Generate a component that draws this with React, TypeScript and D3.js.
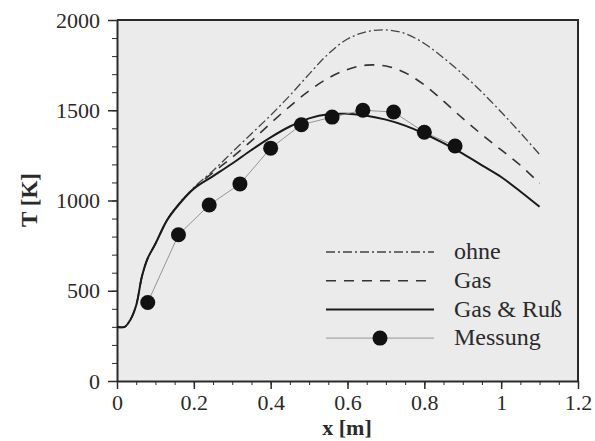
import React, { useEffect, useRef } from "react";
import * as d3 from "d3";

// Gas & Ruß (solid)
const solidX = [0, 0.02, 0.035, 0.05, 0.065, 0.08, 0.1, 0.13, 0.16, 0.2, 0.25, 0.3, 0.35, 0.4, 0.45, 0.5, 0.55, 0.6, 0.65, 0.7, 0.75, 0.8, 0.85, 0.9, 0.95, 1.0, 1.05, 1.1];
const solidT = [300, 300, 340, 420, 580, 680, 760, 890, 975, 1065, 1135, 1205, 1280, 1350, 1410, 1455, 1478, 1480, 1470, 1448, 1415, 1370, 1318, 1260, 1195, 1130, 1050, 965];

// Gas (dashed)
const gasX = [0, 0.02, 0.035, 0.05, 0.065, 0.08, 0.1, 0.13, 0.16, 0.2, 0.25, 0.3, 0.35, 0.4, 0.45, 0.5, 0.55, 0.6, 0.65, 0.7, 0.75, 0.8, 0.85, 0.9, 0.95, 1.0, 1.05, 1.1];
const gasT = [300, 300, 340, 420, 580, 680, 760, 890, 978, 1068, 1155, 1240, 1330, 1428, 1522, 1608, 1678, 1726, 1750, 1745, 1708, 1640, 1550, 1455, 1365, 1280, 1195, 1095];

// ohne (dash-dot)
const ohneX = [0, 0.02, 0.035, 0.05, 0.065, 0.08, 0.1, 0.13, 0.16, 0.2, 0.25, 0.3, 0.35, 0.4, 0.45, 0.5, 0.55, 0.6, 0.65, 0.7, 0.75, 0.8, 0.85, 0.9, 0.95, 1.0, 1.05, 1.1];
const ohneT = [300, 300, 340, 420, 580, 680, 760, 890, 980, 1072, 1165, 1268, 1370, 1472, 1582, 1700, 1812, 1895, 1935, 1945, 1925, 1870, 1790, 1700, 1600, 1490, 1375, 1255];

// Messung
const measX = [0.08, 0.16, 0.24, 0.32, 0.4, 0.48, 0.56, 0.64, 0.72, 0.8, 0.88];
const measT = [435, 810, 975, 1092, 1290, 1420, 1462, 1500, 1490, 1378, 1302];

const xTicks = [0, 0.2, 0.4, 0.6, 0.8, 1, 1.2];
const yTicks = [0, 500, 1000, 1500, 2000];
const legendLabels = ["ohne", "Gas", "Gas & Ruß", "Messung"];

export default function App() {
  const ref = useRef<SVGSVGElement>(null);

  useEffect(() => {
    const svg = d3.select(ref.current);
    svg.selectAll("*").remove();

    const width = 595;
    const height = 441;
    const margin = { top: 20, right: 17, bottom: 60, left: 117 };
    const font = "'Liberation Serif', Tinos, 'Times New Roman', Times, 'DejaVu Serif', serif";
    const ink = "#2a2a2a";

    svg.attr("width", width).attr("height", height);

    const x = d3.scaleLinear().domain([0, 1.2]).range([margin.left, width - margin.right]);
    const y = d3.scaleLinear().domain([0, 2000]).range([height - margin.bottom, margin.top]);

    // background
    svg.append("rect")
      .attr("x", margin.left).attr("y", margin.top)
      .attr("width", width - margin.right - margin.left)
      .attr("height", height - margin.bottom - margin.top)
      .attr("fill", "#ebebeb");

    // minor ticks
    const gx = svg.append("g")
      .attr("transform", `translate(0,${height - margin.bottom})`)
      .call(d3.axisBottom(x).tickValues(d3.range(0, 1.21, 0.05)).tickSize(4).tickFormat(() => ""));
    gx.select(".domain").remove();
    gx.selectAll("line").attr("stroke", ink);

    const gy = svg.append("g")
      .attr("transform", `translate(${margin.left},0)`)
      .call(d3.axisLeft(y).tickValues(d3.range(0, 2001, 100)).tickSize(5).tickFormat(() => ""));
    gy.select(".domain").remove();
    gy.selectAll("line").attr("stroke", ink);

    // major axes
    const ax = svg.append("g")
      .attr("transform", `translate(0,${height - margin.bottom})`)
      .call(d3.axisBottom(x).tickValues(xTicks).tickSize(8).tickPadding(5).tickSizeOuter(0).tickFormat(d => String(d)));
    ax.select(".domain").attr("stroke", ink).attr("stroke-width", 2);
    ax.selectAll("line").attr("stroke", ink).attr("stroke-width", 1.5);
    ax.selectAll("text").attr("font-family", font).attr("font-size", 22).attr("fill", ink);

    const ay = svg.append("g")
      .attr("transform", `translate(${margin.left},0)`)
      .call(d3.axisLeft(y).tickValues(yTicks).tickSize(9).tickPadding(8).tickSizeOuter(0).tickFormat(d => String(d)));
    ay.select(".domain").attr("stroke", ink).attr("stroke-width", 2);
    ay.selectAll("line").attr("stroke", ink).attr("stroke-width", 1.5);
    ay.selectAll("text").attr("font-family", font).attr("font-size", 22).attr("fill", ink);

    // frame top & right
    svg.append("path")
      .attr("d", `M${margin.left},${margin.top}H${width - margin.right}V${height - margin.bottom}`)
      .attr("fill", "none").attr("stroke", ink).attr("stroke-width", 2);

    const line = d3.line<[number, number]>()
      .x(d => x(d[0])).y(d => y(d[1]))
      .curve(d3.curveCatmullRom.alpha(0.5));

    const zip = (xs: number[], ts: number[]) => xs.map((v, i) => [v, ts[i]] as [number, number]);

    svg.append("path").datum(zip(ohneX, ohneT))
      .attr("d", line).attr("fill", "none").attr("stroke", "#444")
      .attr("stroke-width", 1.3).attr("stroke-dasharray", "9,3,2,3");

    svg.append("path").datum(zip(gasX, gasT))
      .attr("d", line).attr("fill", "none").attr("stroke", "#333")
      .attr("stroke-width", 1.6).attr("stroke-dasharray", "10,8");

    svg.append("path").datum(zip(solidX, solidT))
      .attr("d", line).attr("fill", "none").attr("stroke", "#1a1a1a")
      .attr("stroke-width", 2);

    const meas = zip(measX, measT);
    svg.append("path").datum(meas)
      .attr("d", d3.line<[number, number]>().x(d => x(d[0])).y(d => y(d[1])))
      .attr("fill", "none").attr("stroke", "#8a8a8a").attr("stroke-width", 0.9);

    svg.append("g").selectAll("circle").data(meas).enter().append("circle")
      .attr("cx", d => x(d[0])).attr("cy", d => y(d[1]))
      .attr("r", 7.5).attr("fill", "#111");

    // legend
    const lg = svg.append("g");
    const lx0 = 326, lx1 = 434, ly0 = 252, dy = 28.7;
    const styles = [
      { stroke: "#444", w: 1.3, dash: "9,3,2,3" },
      { stroke: "#333", w: 1.6, dash: "10,8" },
      { stroke: "#1a1a1a", w: 2, dash: null },
      { stroke: "#8a8a8a", w: 0.9, dash: null },
    ];
    legendLabels.forEach((lab, i) => {
      const yy = ly0 + i * dy;
      const s = styles[i];
      const l = lg.append("line").attr("x1", lx0).attr("x2", lx1).attr("y1", yy).attr("y2", yy)
        .attr("stroke", s.stroke).attr("stroke-width", s.w);
      if (s.dash) l.attr("stroke-dasharray", s.dash);
      if (i === 3) lg.append("circle").attr("cx", (lx0 + lx1) / 2).attr("cy", yy).attr("r", 7.5).attr("fill", "#111");
      lg.append("text").attr("x", 454).attr("y", yy).attr("dy", "0.3em")
        .attr("font-family", font).attr("font-size", 24).attr("fill", ink).text(lab);
    });

    // axis titles
    svg.append("text")
      .attr("x", 347).attr("y", 435)
      .attr("text-anchor", "middle").attr("font-family", font).attr("font-weight", "bold")
      .attr("font-size", 22).attr("fill", ink).text("x [m]");

    svg.append("text")
      .attr("transform", `translate(37,200) rotate(-90)`)
      .attr("text-anchor", "middle").attr("font-family", font).attr("font-weight", "bold")
      .attr("font-size", 23).attr("fill", ink).text("T [K]");
  }, []);

  return <svg ref={ref} style={{ position: "absolute", left: 0, top: 0, background: "#fff" }}></svg>;
}
